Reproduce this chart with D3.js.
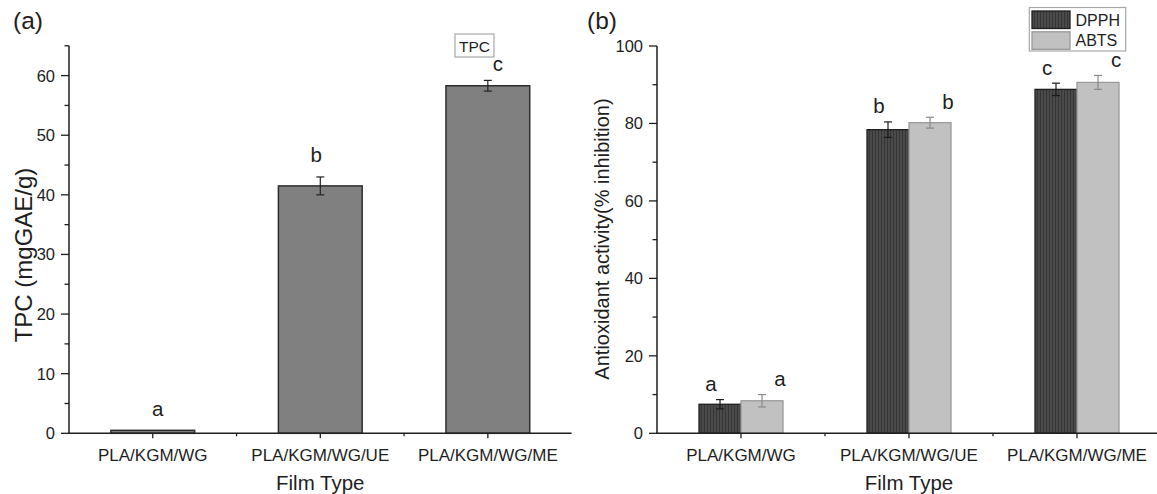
<!DOCTYPE html>
<html><head><meta charset="utf-8">
<script src="https://cdn.jsdelivr.net/npm/d3@7/dist/d3.min.js"></script>
<style>
html,body{margin:0;padding:0;background:#fff;}
svg{display:block;font-family:"Liberation Sans",Arial,Helvetica,sans-serif;}
</style></head>
<body>
<svg id="chart" width="1157" height="494"></svg>
<script>
// ---------- data ----------
const categories = ["PLA/KGM/WG", "PLA/KGM/WG/UE", "PLA/KGM/WG/ME"];
const tpcValues = [0.5, 41.5, 58.3];
const tpcErrors = [0.1, 1.5, 0.9];
const tpcLetters = ["a", "b", "c"];

const seriesNames = ["DPPH", "ABTS"];
const dpphValues = [7.5, 78.4, 88.8];
const dpphErrors = [1.2, 2.0, 1.6];
const abtsValues = [8.4, 80.2, 90.6];
const abtsErrors = [1.6, 1.4, 1.8];
const dpphLetters = ["a", "b", "c"];
const abtsLetters = ["a", "b", "c"];

const tpcTicks = [0, 10, 20, 30, 40, 50, 60];
const tpcMinorTicks = [5, 15, 25, 35, 45, 55, 65];
const aoTicks = [0, 20, 40, 60, 80, 100];
const aoMinorTicks = [10, 30, 50, 70, 90];

// ---------- layout / style ----------
const svg = d3.select("#chart");
const ink = "#1e1e1e";
const defs = svg.append("defs");
const pat = defs.append("pattern").attr("id","stripe").attr("patternUnits","userSpaceOnUse")
  .attr("width",3).attr("height",10);
pat.append("rect").attr("width",3).attr("height",10).attr("fill","#4a4a4a");
pat.append("rect").attr("x",2).attr("width",1).attr("height",10).attr("fill","#363636");

function yAxisDraw(g, y, x0, major, minor) {
  const ax = g.append("g").attr("transform", `translate(${x0},0)`);
  ax.append("line").attr("x1",0).attr("x2",0).attr("y1",y.range()[0]).attr("y2",y.range()[1])
    .attr("stroke",ink).attr("stroke-width",1.5);
  ax.selectAll(".maj").data(major).join("line").attr("x1",-8).attr("x2",0)
    .attr("y1",d=>y(d)).attr("y2",d=>y(d)).attr("stroke",ink).attr("stroke-width",1.3);
  ax.selectAll(".min").data(minor).join("line").attr("x1",-4.5).attr("x2",0)
    .attr("y1",d=>y(d)).attr("y2",d=>y(d)).attr("stroke",ink).attr("stroke-width",1.3);
  ax.selectAll(".lab").data(major).join("text").attr("x",-14).attr("y",d=>y(d)).attr("dy","0.36em")
    .attr("text-anchor","end").attr("font-size",16.5).attr("fill",ink).text(d=>d);
}
function xAxisDraw(g, x, y0) {
  const r = x.range();
  const ax = g.append("g").attr("transform", `translate(0,${y0})`);
  ax.append("line").attr("x1",r[0]-0.75).attr("x2",r[1]).attr("y1",0).attr("y2",0)
    .attr("stroke",ink).attr("stroke-width",1.5);
  ax.selectAll(".maj").data(x.domain()).join("line")
    .attr("x1",d=>x(d)+x.bandwidth()/2).attr("x2",d=>x(d)+x.bandwidth()/2)
    .attr("y1",0).attr("y2",5).attr("stroke",ink).attr("stroke-width",1.3);
  ax.selectAll(".min").data(x.domain().slice(1)).join("line")
    .attr("x1",d=>x(d)).attr("x2",d=>x(d)).attr("y1",0).attr("y2",3)
    .attr("stroke",ink).attr("stroke-width",1.3);
  ax.selectAll(".lab").data(x.domain()).join("text")
    .attr("x",d=>x(d)+x.bandwidth()/2).attr("y",27.5).attr("text-anchor","middle")
    .attr("font-size",17).attr("fill",ink).text(d=>d);
}
function errBar(g, cx, yTop, yBot, color) {
  g.append("line").attr("x1",cx).attr("x2",cx).attr("y1",yTop).attr("y2",yBot).attr("stroke",color).attr("stroke-width",1.2);
  g.append("line").attr("x1",cx-4).attr("x2",cx+4).attr("y1",yTop).attr("y2",yTop).attr("stroke",color).attr("stroke-width",1.2);
  g.append("line").attr("x1",cx-4).attr("x2",cx+4).attr("y1",yBot).attr("y2",yBot).attr("stroke",color).attr("stroke-width",1.2);
}

// ---------- panel (a) ----------
const gA = svg.append("g");
const xA = d3.scaleBand().domain(categories).range([69, 571.6]);
const yA = d3.scaleLinear().domain([0, 65]).range([433.3, 45.8]);
const tpcData = categories.map((c,i)=>({c, v:tpcValues[i], e:tpcErrors[i], l:tpcLetters[i]}));
const bwA = xA.bandwidth()*0.5;
gA.selectAll(".bar").data(tpcData).join("rect")
  .attr("x",d=>xA(d.c)+xA.bandwidth()/2-bwA/2).attr("width",bwA)
  .attr("y",d=>yA(d.v)).attr("height",d=>yA(0)-yA(d.v))
  .attr("fill","#808080").attr("stroke","#2e2e2e").attr("stroke-width",1.5);
tpcData.forEach(d=>{ if (d.e>0.3) errBar(gA, xA(d.c)+xA.bandwidth()/2, yA(d.v+d.e), yA(d.v-d.e), "#222"); });
const tpcLabelDx = [5, -4, 10];
const tpcLabelDy = [14, 15, 9];
gA.selectAll(".let").data(tpcData).join("text")
  .attr("x",(d,i)=>xA(d.c)+xA.bandwidth()/2+tpcLabelDx[i]).attr("y",(d,i)=>yA(d.v+d.e)-tpcLabelDy[i])
  .attr("text-anchor","middle").attr("font-size",20.5).attr("fill",ink).text(d=>d.l);
yAxisDraw(gA, yA, 69, tpcTicks, tpcMinorTicks);
xAxisDraw(gA, xA, 433.3);
// legend TPC
gA.append("rect").attr("x",455).attr("y",34).attr("width",39).attr("height",23)
  .attr("fill","#fff").attr("stroke","#a8a8a8").attr("stroke-width",1.2);
gA.append("text").attr("x",474.5).attr("y",51.5).attr("text-anchor","middle").attr("font-size",15.5).attr("fill",ink).text("TPC");
gA.append("text").attr("x",13).attr("y",29).attr("font-size",24.5).attr("fill",ink).text("(a)");
gA.append("text").attr("transform","translate(32,255) rotate(-90)").attr("text-anchor","middle")
  .attr("font-size",24).attr("fill",ink).text("TPC (mgGAE/g)");
gA.append("text").attr("x",xA(categories[1])+xA.bandwidth()/2).attr("y",490).attr("text-anchor","middle")
  .attr("font-size",20.5).attr("fill",ink).text("Film Type");

// ---------- panel (b) ----------
const gB = svg.append("g");
const xB = d3.scaleBand().domain(categories).range([657, 1161]);
const xSub = d3.scaleBand().domain(seriesNames).range([xB.bandwidth()*0.25, xB.bandwidth()*0.75]);
const yB = d3.scaleLinear().domain([0, 100]).range([433.3, 46]);
const aoData = [];
categories.forEach((c,i)=>{
  aoData.push({c, s:"DPPH", v:dpphValues[i], e:dpphErrors[i], l:dpphLetters[i]});
  aoData.push({c, s:"ABTS", v:abtsValues[i], e:abtsErrors[i], l:abtsLetters[i]});
});
const fillB = {DPPH:"url(#stripe)", ABTS:"#c1c1c1"};
const strokeB = {DPPH:"#1f1f1f", ABTS:"#9a9a9a"};
const errColB = {DPPH:"#1a1a1a", ABTS:"#8a8a8a"};
const labelDxB = {DPPH:-9, ABTS:18};
gB.selectAll(".bar").data(aoData).join("rect")
  .attr("x",d=>xB(d.c)+xSub(d.s)).attr("width",xSub.bandwidth())
  .attr("y",d=>yB(d.v)).attr("height",d=>yB(0)-yB(d.v))
  .attr("fill",d=>fillB[d.s]).attr("stroke",d=>strokeB[d.s]).attr("stroke-width",1.3);
aoData.forEach(d=>errBar(gB, xB(d.c)+xSub(d.s)+xSub.bandwidth()/2, yB(d.v+d.e), yB(d.v-d.e), errColB[d.s]));
gB.selectAll(".let").data(aoData).join("text")
  .attr("x",d=>xB(d.c)+xSub(d.s)+xSub.bandwidth()/2+labelDxB[d.s]).attr("y",d=>yB(d.v+d.e)-8.5)
  .attr("text-anchor","middle").attr("font-size",20.5).attr("fill",ink).text(d=>d.l);
yAxisDraw(gB, yB, 657, aoTicks, aoMinorTicks);
xAxisDraw(gB, xB, 433.3);
// legend
const lg = gB.append("g");
lg.append("rect").attr("x",1029.3).attr("y",7.5).attr("width",96.4).attr("height",43.5)
  .attr("fill","#fff").attr("stroke","#a8a8a8").attr("stroke-width",1.2);
seriesNames.forEach((s,i)=>{
  lg.append("rect").attr("x",1032).attr("y",11+i*20.8).attr("width",38).attr("height",17.5)
    .attr("fill",fillB[s]).attr("stroke",strokeB[s]).attr("stroke-width",1.3);
  lg.append("text").attr("x",1075.5).attr("y",25.5+i*20.5).attr("font-size",16).attr("fill",ink).text(s);
});
gB.append("text").attr("x",587).attr("y",29).attr("font-size",24.5).attr("fill",ink).text("(b)");
gB.append("text").attr("transform","translate(609,239) rotate(-90)").attr("text-anchor","middle")
  .attr("font-size",20).attr("fill",ink).text("Antioxidant activity(% inhibition)");
gB.append("text").attr("x",xB(categories[1])+xB.bandwidth()/2).attr("y",490).attr("text-anchor","middle")
  .attr("font-size",20.5).attr("fill",ink).text("Film Type");
</script>
</body></html>
